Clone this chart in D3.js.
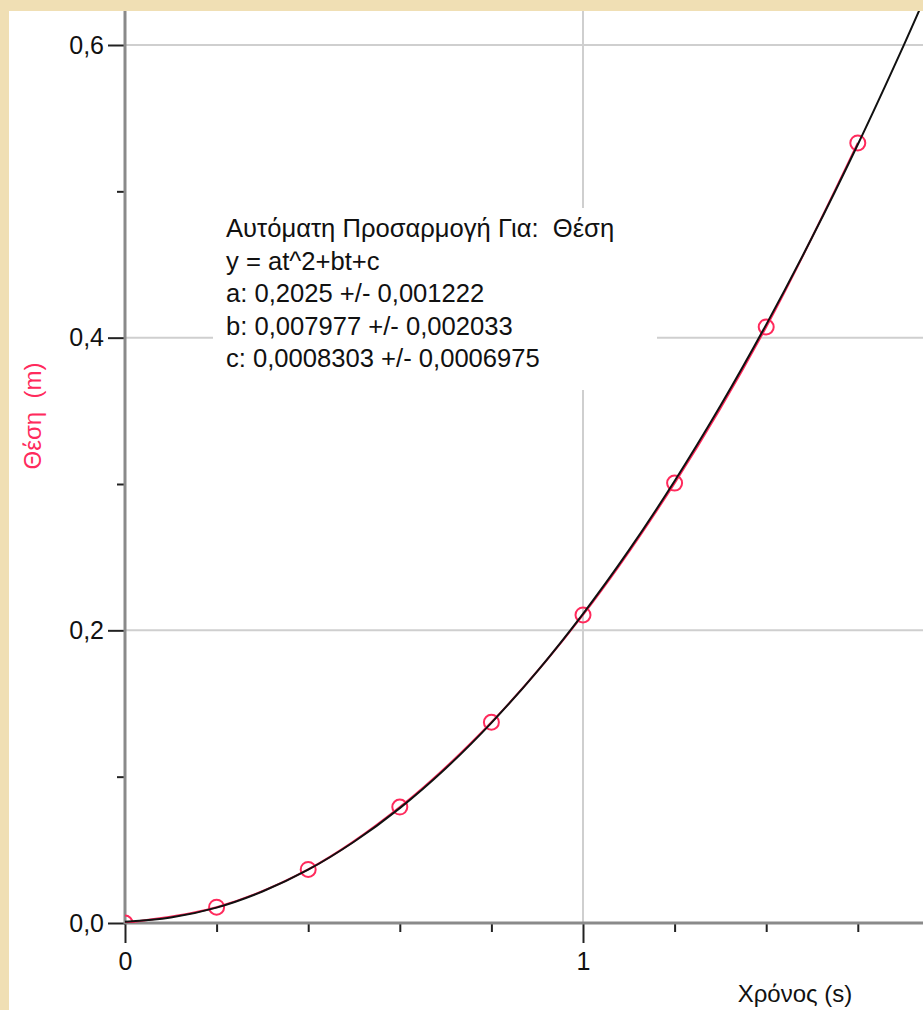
<!DOCTYPE html>
<html>
<head>
<meta charset="utf-8">
<script src="https://cdn.jsdelivr.net/npm/d3@7"></script>
<style>
  html, body { margin: 0; padding: 0; background: #f0dfb4; }
  svg { display: block; }
  text { font-family: "Liberation Sans", Arial, sans-serif; }
</style>
</head>
<body>
<div id="chart"></div>
<script>
// measured points: time (s) and position (m)
const times = [0, 0.2, 0.4, 0.6, 0.8, 1.0, 1.2, 1.4, 1.6];
const positions = [0.000, 0.0108, 0.0366, 0.0792, 0.1372, 0.2105, 0.3006, 0.4073, 0.5331];

// fitted curve
const fitTimes = [0, 0.1, 0.2, 0.3, 0.4, 0.5, 0.6, 0.7, 0.8, 0.9, 1.0, 1.1, 1.2, 1.3, 1.4, 1.5, 1.6, 1.7, 1.75];
const fitValues = [0.0008, 0.0037, 0.0105, 0.0215, 0.0364, 0.0555, 0.0785, 0.1056, 0.1368, 0.1720, 0.2113, 0.2546, 0.3020, 0.3534, 0.4089, 0.4684, 0.5320, 0.5996, 0.6350];

// tick values
const xMajor = [0, 1];
const xMinor = [0.2, 0.4, 0.6, 0.8, 1.2, 1.4, 1.6];
const yMajor = [0, 0.2, 0.4, 0.6];
const yMinor = [0.1, 0.3, 0.5];

const fitLines = [
  "Αυτόματη Προσαρμογή Για:  Θέση",
  "y = at^2+bt+c",
  "a: 0,2025 +/- 0,001222",
  "b: 0,007977 +/- 0,002033",
  "c: 0,0008303 +/- 0,0006975"
];

const width = 923, height = 1010;
const plot = { left: 125, right: 923, top: 11, bottom: 923 };

const svg = d3.select("#chart")
  .append("svg")
  .attr("width", width)
  .attr("height", height);

// white panel
svg.append("rect")
  .attr("x", 9).attr("y", 11)
  .attr("width", width - 9).attr("height", height - 11)
  .attr("fill", "#fff");

const x = d3.scaleLinear()
  .domain([0, 1])
  .range([plot.left, 583]);

const y = d3.scaleLinear()
  .domain([0, 0.6])
  .range([plot.bottom, 45]);

svg.append("clipPath")
  .attr("id", "plotclip")
  .append("rect")
  .attr("x", plot.left).attr("y", plot.top)
  .attr("width", plot.right - plot.left).attr("height", plot.bottom - plot.top);

// grid lines
const grid = svg.append("g");
grid.selectAll(".hgrid")
  .data(yMajor.filter(d => d > 0))
  .enter().append("line")
  .attr("x1", plot.left).attr("x2", plot.right)
  .attr("y1", d => y(d)).attr("y2", d => y(d))
  .attr("stroke", "#cfcfcf").attr("stroke-width", 2);
grid.selectAll(".vgrid")
  .data(xMajor.filter(d => d > 0))
  .enter().append("line")
  .attr("x1", d => x(d)).attr("x2", d => x(d))
  .attr("y1", plot.top).attr("y2", plot.bottom)
  .attr("stroke", "#cfcfcf").attr("stroke-width", 2);

// fit results box
const box = svg.append("g");
box.append("rect")
  .attr("x", 213).attr("y", 208)
  .attr("width", 444).attr("height", 182)
  .attr("fill", "#fff");
box.selectAll("text")
  .data(fitLines)
  .enter().append("text")
  .attr("x", 226)
  .attr("y", (d, i) => 237 + i * 32.5)
  .attr("font-size", 25.6)
  .attr("fill", "#111")
  .style("white-space", "pre")
  .text(d => d);

// axes
const fmtY = d => d.toFixed(1).replace(".", ",");

const yAxis = svg.append("g")
  .attr("transform", `translate(${plot.left},0)`)
  .call(d3.axisLeft(y).tickValues(yMajor).tickSize(17).tickPadding(4).tickFormat(fmtY));
const yAxisMinor = svg.append("g")
  .attr("transform", `translate(${plot.left},0)`)
  .call(d3.axisLeft(y).tickValues(yMinor).tickSize(8).tickFormat(""));

const xAxis = svg.append("g")
  .attr("transform", `translate(0,${plot.bottom})`)
  .call(d3.axisBottom(x).tickValues(xMajor).tickSize(20).tickPadding(9).tickFormat(d3.format("d")));
const xAxisMinor = svg.append("g")
  .attr("transform", `translate(0,${plot.bottom})`)
  .call(d3.axisBottom(x).tickValues(xMinor).tickSize(9).tickFormat(""));

[yAxis, yAxisMinor, xAxis, xAxisMinor].forEach(g => {
  g.select(".domain").remove();
  g.selectAll(".tick line").attr("stroke", "#222").attr("stroke-width", 2);
  g.selectAll(".tick text")
    .attr("font-size", 25)
    .attr("fill", "#111")
    .attr("font-family", "'Liberation Sans', Arial, sans-serif");
});

// axis lines
svg.append("line")
  .attr("x1", plot.left).attr("x2", plot.left)
  .attr("y1", plot.top).attr("y2", plot.bottom + 1)
  .attr("stroke", "#8a8a8a").attr("stroke-width", 3);
svg.append("line")
  .attr("x1", plot.left).attr("x2", plot.right)
  .attr("y1", plot.bottom).attr("y2", plot.bottom)
  .attr("stroke", "#8a8a8a").attr("stroke-width", 3);

// axis titles
svg.append("text")
  .attr("x", 795).attr("y", 1002)
  .attr("text-anchor", "middle")
  .attr("font-size", 24)
  .attr("fill", "#111")
  .text("Χρόνος (s)");

svg.append("text")
  .attr("transform", "translate(41,416) rotate(-90)")
  .attr("text-anchor", "middle")
  .attr("font-size", 24)
  .attr("fill", "#ff2a5c")
  .style("white-space", "pre")
  .text("Θέση  (m)");

// data
const marks = svg.append("g").attr("clip-path", "url(#plotclip)");
const pts = times.map((t, i) => [t, positions[i]]);

marks.append("path")
  .datum(pts)
  .attr("fill", "none")
  .attr("stroke", "#ff2a5c")
  .attr("stroke-width", 2)
  .attr("d", d3.line().curve(d3.curveCatmullRom).x(d => x(d[0])).y(d => y(d[1])));

marks.selectAll("circle")
  .data(pts)
  .enter().append("circle")
  .attr("cx", d => x(d[0]))
  .attr("cy", d => y(d[1]))
  .attr("r", 7.5)
  .attr("fill", "none")
  .attr("stroke", "#ff2a5c")
  .attr("stroke-width", 2);

marks.append("path")
  .datum(fitTimes.map((t, i) => [t, fitValues[i]]))
  .attr("fill", "none")
  .attr("stroke", "#111")
  .attr("stroke-width", 2)
  .attr("d", d3.line().curve(d3.curveCatmullRom).x(d => x(d[0])).y(d => y(d[1])));
</script>
</body>
</html>
